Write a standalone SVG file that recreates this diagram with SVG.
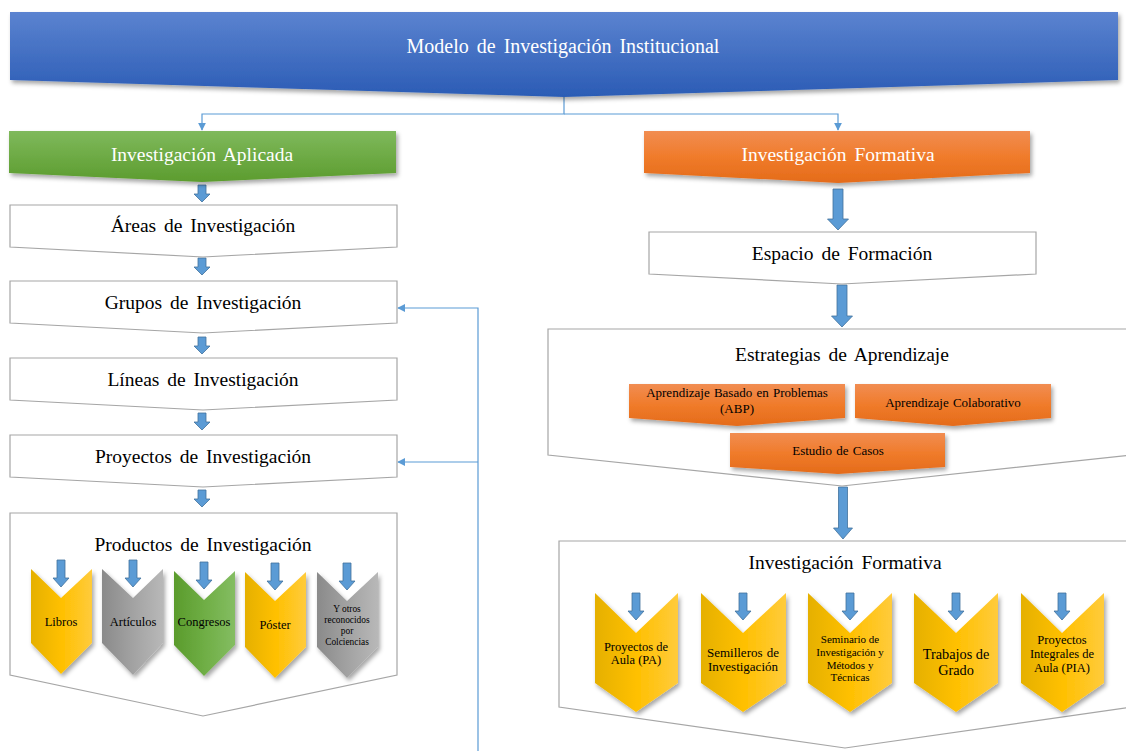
<svg xmlns="http://www.w3.org/2000/svg" width="1126" height="751" viewBox="0 0 1126 751" font-family="'Liberation Serif', 'DejaVu Serif', serif">
<style>
.t{font-family:'Liberation Serif','Times New Roman','DejaVu Serif',serif;text-anchor:middle;fill:#000;word-spacing:3px}
.big{font-size:19.5px}
.ban{font-size:20px}
.w{fill:#fff}
.s12{font-size:12.5px;word-spacing:0}
.s13{font-size:13px;word-spacing:1px}
.s11{font-size:11px;word-spacing:0}
.s9{font-size:9.4px;word-spacing:0}
.box{fill:#fff;stroke:#a6a6a6;stroke-width:1.2}
.ba{fill:#5b9bd5;stroke:#41719c;stroke-width:0.8}
.con{fill:none;stroke:#5b9bd5;stroke-width:1.2}
.yel{fill:url(#gy)}
.gry{fill:url(#gg)}
.grn{fill:url(#gn)}
.org{fill:url(#go)}
.sh{filter:url(#ds)}
</style>
<defs>
<linearGradient id="gb" x1="0" y1="0" x2="0" y2="1"><stop offset="0" stop-color="#5b83d0"/><stop offset="1" stop-color="#2b5cb5"/></linearGradient>
<linearGradient id="gA" x1="0" y1="0" x2="0" y2="1"><stop offset="0" stop-color="#7fb95c"/><stop offset="1" stop-color="#5c9c2e"/></linearGradient>
<linearGradient id="go" x1="0" y1="0" x2="0" y2="1"><stop offset="0" stop-color="#f18d52"/><stop offset="0.5" stop-color="#f07b2a"/><stop offset="1" stop-color="#e46b1a"/></linearGradient>
<linearGradient id="gy" x1="0" y1="0" x2="1" y2="0"><stop offset="0" stop-color="#e5b000"/><stop offset="0.5" stop-color="#ffc000"/><stop offset="1" stop-color="#ffcb3c"/></linearGradient>
<linearGradient id="gg" x1="0" y1="0" x2="1" y2="0"><stop offset="0" stop-color="#8a8a8a"/><stop offset="0.5" stop-color="#a2a2a2"/><stop offset="1" stop-color="#b8b8b8"/></linearGradient>
<linearGradient id="gn" x1="0" y1="0" x2="1" y2="0"><stop offset="0" stop-color="#5a9b2c"/><stop offset="0.5" stop-color="#6fae45"/><stop offset="1" stop-color="#84bd62"/></linearGradient>
<filter id="ds" x="-10%" y="-10%" width="130%" height="140%"><feDropShadow dx="2" dy="3" stdDeviation="2" flood-color="#000" flood-opacity="0.35"/></filter>
<marker id="ah" viewBox="0 0 10 10" refX="9" refY="5" markerWidth="8" markerHeight="8" markerUnits="userSpaceOnUse" orient="auto"><path d="M0,0 L10,5 L0,10 z" fill="#5b9bd5"/></marker>
<path id="sa" d="M-4,0 H4 V9 H8 L0,17 L-8,9 H-4 Z"/>
<path id="ca" d="M-4,0 H4 V18 H8 L0,27 L-8,18 H-4 Z"/>
</defs>

<g id="connectors">
<path class="con" d="M564,97 V114 H202 V130" marker-end="url(#ah)"/>
<path class="con" d="M564,114 H838 V130" marker-end="url(#ah)"/>
<path class="con" d="M478,751 V308 H398" marker-end="url(#ah)"/>
<path class="con" d="M478,462 H398" marker-end="url(#ah)"/>
<use href="#sa" class="ba" x="202" y="185"/>
<use href="#sa" class="ba" x="202" y="258"/>
<use href="#sa" class="ba" x="202" y="337"/>
<use href="#sa" class="ba" x="202" y="413"/>
<use href="#sa" class="ba" x="202" y="490"/>
<path class="ba" d="M833,189 H843 V219 H848.5 L838,230 L827.5,219 H833 Z"/>
<path class="ba" d="M837,285 H847 V316 H852.5 L842,327 L831.5,316 H837 Z"/>
<path class="ba" d="M838.5,487 H847.5 V528 H852.5 L843,539 L833.5,528 H838.5 Z"/>
</g>

<g id="banner">
<polygon class="sh" points="10,12 1118,12 1118,80 564,97 10,80" fill="url(#gb)"/>
<text class="t ban w" x="563" y="53">Modelo de Investigación Institucional</text>
</g>

<g id="inv-aplicada">
<polygon class="sh" points="9,131 396,131 396,173 202,182 9,173" fill="url(#gA)"/>
<text class="t big w" x="202" y="161">Investigación Aplicada</text>
</g>

<g id="inv-formativa">
<polygon class="sh" points="644,131 1030,131 1030,173 838,183 644,173" fill="url(#go)"/>
<text class="t big w" x="838" y="161">Investigación Formativa</text>
</g>

<g id="areas">
<polygon class="box" points="10,205 397,205 397,247 203,257 10,247"/>
<text class="t big" x="203" y="232">Áreas de Investigación</text>
</g>
<g id="grupos">
<polygon class="box" points="10,281 397,281 397,323 203,333 10,323"/>
<text class="t big" x="203" y="309">Grupos de Investigación</text>
</g>
<g id="lineas">
<polygon class="box" points="10,358 397,358 397,400 203,410 10,400"/>
<text class="t big" x="203" y="386">Líneas de Investigación</text>
</g>
<g id="proyectos">
<polygon class="box" points="10,435 397,435 397,477 203,487 10,477"/>
<text class="t big" x="203" y="463">Proyectos de Investigación</text>
</g>

<g id="productos">
<polygon class="box" points="10,513 397,513 397,675 203,716 10,675"/>
<text class="t big" x="203" y="551">Productos de Investigación</text>
</g>
<g id="libros">
<polygon class="yel sh" points="31,569 61,598 92,569 92,643 61,674 31,643"/>
<use href="#ca" class="ba" x="61" y="560"/>
<text class="t s12" x="61" y="626">Libros</text>
</g>
<g id="articulos">
<polygon class="gry sh" points="102,569 133,598 163,569 163,643 133,675 102,643"/>
<use href="#ca" class="ba" x="133" y="560"/>
<text class="t s12" x="133" y="626">Artículos</text>
</g>
<g id="congresos">
<polygon class="grn sh" points="174,571 204,600 235,571 235,645 204,676 174,645"/>
<use href="#ca" class="ba" x="204" y="562"/>
<text class="t s12" x="204" y="626">Congresos</text>
</g>
<g id="poster">
<polygon class="yel sh" points="245,572 275,601 306,572 306,647 275,678 245,647"/>
<use href="#ca" class="ba" x="275" y="563"/>
<text class="t s12" x="275" y="629">Póster</text>
</g>
<g id="otros">
<polygon class="gry sh" points="317,572 347,601 378,572 378,647 347,678 317,647"/>
<use href="#ca" class="ba" x="347" y="563"/>
<text class="t s9" x="347" y="612">Y otros</text>
<text class="t s9" x="347" y="623">reconocidos</text>
<text class="t s9" x="347" y="634">por</text>
<text class="t s9" x="347" y="645">Colciencias</text>
</g>

<g id="espacio">
<polygon class="box" points="649,232 1036,232 1036,274 842,284 649,274"/>
<text class="t big" x="842" y="260">Espacio de Formación</text>
</g>

<g id="estrategias">
<polygon class="box" points="548,329 1132,329 1132,455 842,486 548,455"/>
<text class="t big" x="842" y="361">Estrategias de Aprendizaje</text>
</g>
<g id="abp">
<polygon class="org sh" points="629,384 845,384 845,418 737,426 629,418"/>
<text class="t s13" x="737" y="397">Aprendizaje Basado en Problemas</text>
<text class="t s13" x="737" y="413">(ABP)</text>
</g>
<g id="colaborativo">
<polygon class="org sh" points="855,384 1051,384 1051,418 953,426 855,418"/>
<text class="t s13" x="953" y="407">Aprendizaje Colaborativo</text>
</g>
<g id="casos">
<polygon class="org sh" points="730,433 945,433 945,467 838,474 730,467"/>
<text class="t s13" x="838" y="455">Estudio de Casos</text>
</g>

<g id="formativa-box">
<polygon class="box" points="559,541 1132,541 1132,707 845,748 559,707"/>
<text class="t big" x="845" y="569">Investigación Formativa</text>
</g>
<g id="pa">
<polygon class="yel sh" points="595,593 636,633 678,593 678,683 636,712 595,683"/>
<use href="#ca" class="ba" x="636" y="593"/>
<text class="t s12" x="636" y="651">Proyectos de</text>
<text class="t s12" x="636" y="664">Aula (PA)</text>
</g>
<g id="semilleros">
<polygon class="yel sh" points="701,593 743,633 786,593 786,683 743,712 701,683"/>
<use href="#ca" class="ba" x="743" y="593"/>
<text class="t s13" x="743" y="657">Semilleros de</text>
<text class="t s13" x="743" y="671">Investigación</text>
</g>
<g id="seminario">
<polygon class="yel sh" points="808,593 850,633 892,593 892,683 850,712 808,683"/>
<use href="#ca" class="ba" x="850" y="593"/>
<text class="t s11" x="850" y="643">Seminario de</text>
<text class="t s11" x="850" y="656">Investigación y</text>
<text class="t s11" x="850" y="669">Métodos y</text>
<text class="t s11" x="850" y="681">Técnicas</text>
</g>
<g id="trabajos">
<polygon class="yel sh" points="914,593 956,633 998,593 998,683 956,712 914,683"/>
<use href="#ca" class="ba" x="956" y="593"/>
<text class="t" style="font-size:14.3px;word-spacing:0" x="956" y="659">Trabajos de</text>
<text class="t" style="font-size:14.3px" x="956" y="675">Grado</text>
</g>
<g id="pia">
<polygon class="yel sh" points="1021,593 1062,633 1104,593 1104,683 1062,712 1021,683"/>
<use href="#ca" class="ba" x="1062" y="593"/>
<text class="t s12" x="1062" y="644">Proyectos</text>
<text class="t s12" x="1062" y="658">Integrales de</text>
<text class="t s12" x="1062" y="672">Aula (PIA)</text>
</g>
</svg>
